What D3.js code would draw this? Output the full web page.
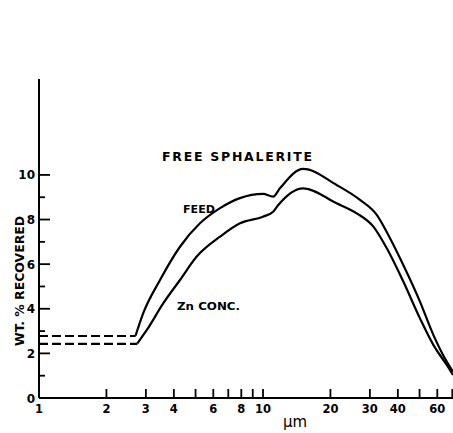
<!DOCTYPE html>
<html>
<head>
<meta charset="utf-8">
<script src="https://cdn.jsdelivr.net/npm/d3@7"></script>
<style>
  body { margin: 0; background: #fff; }
  text { font-family: "DejaVu Sans", sans-serif; fill: #000; }
</style>
</head>
<body>
<svg id="chart" width="453" height="433"></svg>
<script>
// particle size (um) and wt. % recovered
const feedX = [2.7, 2.92, 3.47, 4.26, 5.23, 6.43, 7.89, 10.0, 11.1, 11.9, 15.1, 21.3, 27.1, 32.2, 36.9, 42.3, 50.2, 57.6, 66.1, 70.5];
const feedY = [2.8, 3.8, 5.29, 6.78, 7.83, 8.51, 8.96, 9.15, 9.03, 9.4, 10.27, 9.55, 8.88, 8.21, 7.16, 5.96, 4.32, 2.83, 1.63, 1.18];
const concX = [2.75, 3.03, 3.59, 4.26, 5.06, 6.43, 7.89, 10.0, 11.1, 11.7, 15.1, 21.3, 26.2, 31.1, 35.7, 42.3, 50.2, 57.6, 66.1, 70.5];
const concY = [2.45, 3.05, 4.25, 5.29, 6.34, 7.23, 7.83, 8.13, 8.35, 8.65, 9.4, 8.73, 8.28, 7.68, 6.71, 5.22, 3.57, 2.38, 1.48, 1.03];
// extrapolated (dashed) parts
const feedDash = [[1, 2.78], [2.7, 2.78]];
const concDash = [[1, 2.43], [2.75, 2.43]];

const xTicks = [1, 2, 3, 4, 5, 6, 7, 8, 9, 10, 20, 30, 40, 50, 60, 70];
const xTickLabels = [1, 2, 3, 4, 6, 8, 10, 20, 30, 40, 60];
const yTicks = [0, 1, 2, 3, 4, 5, 6, 7, 8, 9, 10];
const yTickLabels = [0, 2, 4, 6, 8, 10];

const svg = d3.select("#chart");

const x = d3.scaleLog().domain([1, 70]).range([39, 452.3]);
const y = d3.scaleLinear().domain([0, 14.3]).range([398, 79]);

// axes lines
svg.append("line")
  .attr("x1", x(1)).attr("x2", 453)
  .attr("y1", y(0)).attr("y2", y(0))
  .attr("stroke", "#000").attr("stroke-width", 2);
svg.append("line")
  .attr("x1", x(1)).attr("x2", x(1))
  .attr("y1", y(0)).attr("y2", y(14.3))
  .attr("stroke", "#000").attr("stroke-width", 2);

// x ticks point up into the plot
svg.selectAll(".xtick")
  .data(xTicks.slice(1))
  .enter().append("line")
  .attr("class", "xtick")
  .attr("x1", d => x(d)).attr("x2", d => x(d))
  .attr("y1", y(0)).attr("y2", y(0) - 9)
  .attr("stroke", "#000").attr("stroke-width", 1.8);

svg.selectAll(".xlab")
  .data(xTickLabels)
  .enter().append("text")
  .attr("class", "xlab")
  .attr("x", d => x(d))
  .attr("y", 413)
  .attr("text-anchor", "middle")
  .attr("font-size", 11.5)
  .attr("font-weight", "bold")
  .text(d => d);

// y ticks point right
svg.selectAll(".ytick")
  .data(yTicks.slice(1))
  .enter().append("line")
  .attr("class", "ytick")
  .attr("x1", x(1))
  .attr("x2", d => x(1) + (d % 2 == 0 ? 11 : 6))
  .attr("y1", d => y(d)).attr("y2", d => y(d))
  .attr("stroke", "#000").attr("stroke-width", 1.8);

svg.selectAll(".ylab")
  .data(yTickLabels)
  .enter().append("text")
  .attr("class", "ylab")
  .attr("x", 35)
  .attr("y", d => y(d) + 4.5)
  .attr("text-anchor", "end")
  .attr("font-size", 12)
  .attr("font-weight", "bold")
  .text(d => d);

// curves
const line = d3.line()
  .x(d => x(d[0]))
  .y(d => y(d[1]))
  .curve(d3.curveMonotoneX);

const feed = feedX.map((v, i) => [v, feedY[i]]);
const conc = concX.map((v, i) => [v, concY[i]]);

[feed, conc].forEach(function(s) {
  svg.append("path")
    .attr("d", line(s))
    .attr("fill", "none")
    .attr("stroke", "#000")
    .attr("stroke-width", 2.2);
});

[feedDash, concDash].forEach(function(s) {
  svg.append("path")
    .attr("d", d3.line().x(d => x(d[0])).y(d => y(d[1]))(s))
    .attr("fill", "none")
    .attr("stroke", "#000")
    .attr("stroke-width", 2.2)
    .attr("stroke-dasharray", "9,4");
});

// labels
svg.append("text")
  .attr("x", 162).attr("y", 161)
  .attr("font-size", 12.5).attr("font-weight", "bold")
  .attr("textLength", 150).attr("lengthAdjust", "spacing")
  .text("FREE SPHALERITE");

svg.append("text")
  .attr("x", 183).attr("y", 213)
  .attr("font-size", 11).attr("font-weight", "bold")
  .attr("textLength", 32).attr("lengthAdjust", "spacingAndGlyphs")
  .text("FEED");

svg.append("text")
  .attr("x", 177).attr("y", 310)
  .attr("font-size", 11).attr("font-weight", "bold")
  .attr("textLength", 63).attr("lengthAdjust", "spacingAndGlyphs")
  .text("Zn CONC.");

svg.append("text")
  .attr("x", 295).attr("y", 427)
  .attr("text-anchor", "middle")
  .attr("font-size", 15)
  .text("\u03bcm");

svg.append("text")
  .attr("transform", "translate(24,281) rotate(-90)")
  .attr("text-anchor", "middle")
  .attr("font-size", 12).attr("font-weight", "bold")
  .attr("textLength", 130).attr("lengthAdjust", "spacingAndGlyphs")
  .text("WT. % RECOVERED");
</script>
</body>
</html>
